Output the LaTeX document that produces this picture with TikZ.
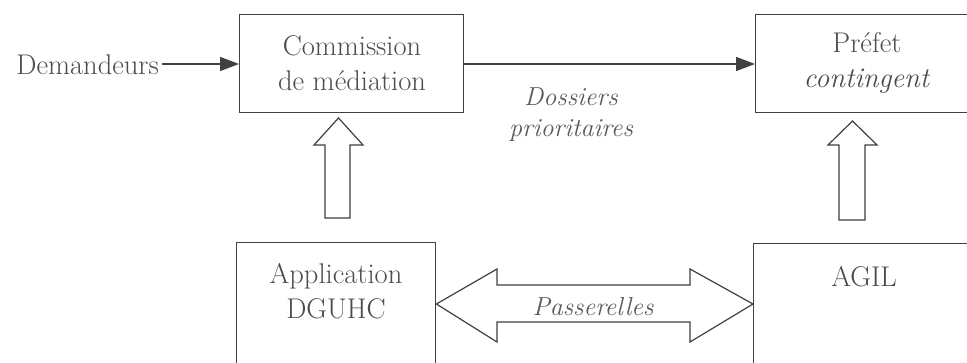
\documentclass[tikz,border=0pt]{standalone}
\usetikzlibrary{arrows.meta}
\begin{document}
\begin{tikzpicture}[x=1pt,y=-1pt,
  box/.style={draw=black!75, line width=1.4pt, rectangle, inner sep=0pt},
  txt/.style={text=black!70, font=\fontsize{28.5}{35}\selectfont, align=center, inner sep=0pt},
  itxt/.style={text=black!65, font=\fontsize{26}{31}\selectfont\itshape, align=center, inner sep=0pt},
  conn/.style={draw=black!75, line width=1.4pt, -{Triangle[length=19pt,width=14pt]}},
  block/.style={draw=black!75, line width=1.2pt, fill=white, line join=miter}
]
\useasboundingbox (0,0) rectangle (967,363);
\clip (0,0) rectangle (967,363);
\fill[white] (0,0) rectangle (967,363);

% boxes
\node[box, minimum width=224pt, minimum height=98pt, anchor=north west] (com) at (239,14) {};
\node[txt] (comtxt) at (352,63) {Commission\\de médiation};
\node[box, minimum width=224pt, minimum height=98pt, anchor=north west] (pref) at (755,14) {};
\node[txt] (preftxt) at (867,63) {Préfet\\\textit{contingent}};
\node[box, minimum width=199pt, minimum height=160pt, anchor=north west] (app) at (236,242) {};
\node[txt] (apptxt) at (336,291) {Application\\DGUHC};
\node[box, minimum width=222pt, minimum height=160pt, anchor=north west] (agil) at (753,243) {};
\node[txt, anchor=center] (agiltxt) at (864,277) {AGIL};

% demandeurs
\node[txt, anchor=east] (dem) at (159,65) {Demandeurs};
\draw[conn] ([xshift=3pt]dem.east |- 0,64) -- (com.west |- 0,64);
\draw[conn] (com.east |- 0,64) -- (pref.west |- 0,64);

\node[itxt] (dos) at (571,115) {Dossiers\\prioritaires};

% block arrows up
\draw[block] (325,218) -- (325,145) -- (314,145) -- (338.5,118) -- (363,145) -- (350,145) -- (350,218) -- cycle;
\draw[block] (839,220) -- (839,145) -- (828,145) -- (852.5,121) -- (877,145) -- (865,145) -- (865,220) -- cycle;

% double arrow
\draw[block] (app.east |- 0,304) -- (497,269) -- (497,285) -- (690,285) -- (690,269) -- (agil.west |- 0,304)
  -- (690,342) -- (690,322) -- (497,322) -- (497,342) -- cycle;
\node[itxt] (pass) at (593,307) {Passerelles};
\end{tikzpicture}
\end{document}
